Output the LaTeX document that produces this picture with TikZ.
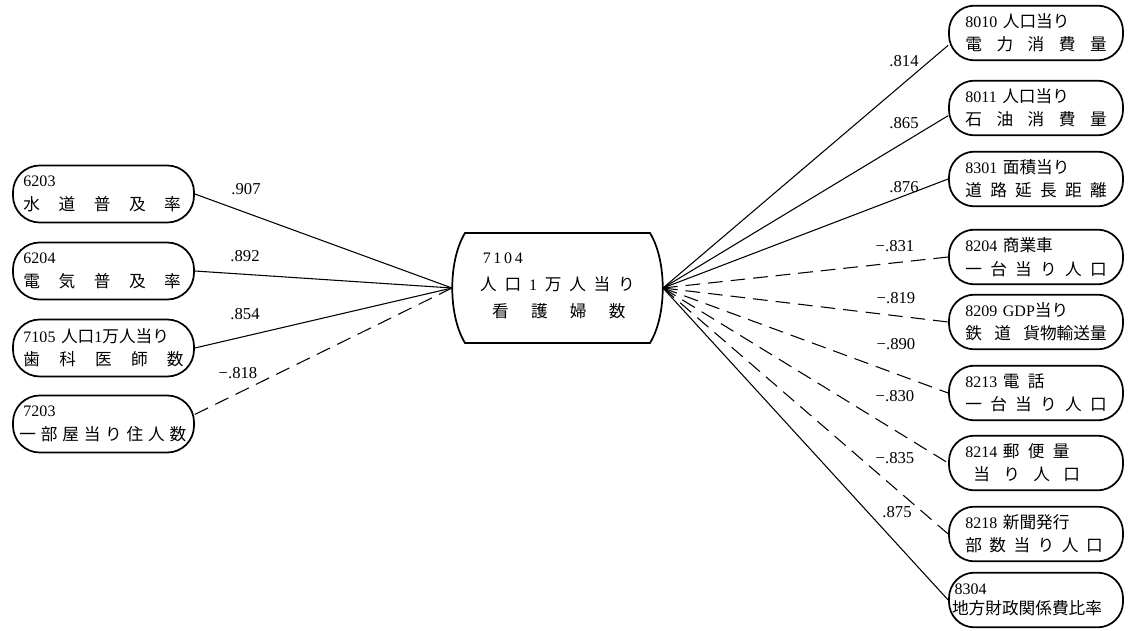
\documentclass[tikz,border=0pt]{standalone}
\usepackage{fontspec}
\setmainfont{Liberation Serif}
\newfontfamily\cjk{Noto Sans CJK JP}
\usetikzlibrary{calc,positioning}

\newcommand{\code}[1]{{\rmfamily\fontsize{12}{14}\selectfont #1}}
\newcommand{\spread}[2]{\makebox[#1][s]{#2}}

\tikzset{
    varbox/.style={draw,line width=1.3pt,rounded corners=19pt,inner sep=0pt,
        minimum width=130.5pt,minimum height=41pt,text width=106pt,align=left,
        font=\cjk\fontsize{12.5}{17.5}\selectfont},
    leftbox/.style={varbox,rounded corners=20pt,minimum width=135.75pt,
        minimum height=42.75pt,text width=120pt},
    posline/.style={line width=.8pt},
    negline/.style={line width=.8pt,dash pattern=on 11pt off 6pt},
    corr/.style={font=\fontsize{12.5}{14}\selectfont,inner sep=0pt}
}

\begin{document}
\begin{tikzpicture}[x=0.75pt,y=-0.75pt]
        \useasboundingbox (0,0) rectangle (1134,631);

        % Center
        \node[minimum width=138.75pt,minimum height=82.5pt,text width=116pt,align=left,
            inner sep=0pt,font=\cjk\fontsize{12.5}{20}\selectfont] (nurse) at (557.5,286)
            {\hspace*{2pt}\code{7\,1\,0\,4}\\ \spread{116pt}{人\hfill 口\hfill \code{1}\hfill 万\hfill 人\hfill 当\hfill り}\\
             \hspace*{9pt}\spread{100pt}{看\hfill 護\hfill 婦\hfill 数}};
        \draw[line width=1.3pt] (465,233) -- (650,233)
            .. controls (667,261) and (667,315) .. (650,343)
            -- (465,343)
            .. controls (448,315) and (448,261) .. cycle;
        \coordinate (nurse-l) at (452,288);
        \coordinate (nurse-r) at (663,288);

        % Left
        \node[leftbox] (l1) at (103.5,194) {\code{6203}\\[1pt] \spread{118pt}{水\hfill 道\hfill 普\hfill 及\hfill 率}};
        \node[leftbox] (l2) at (103.5,271) {\code{6204}\\[1pt] \spread{118pt}{電\hfill 気\hfill 普\hfill 及\hfill 率}};
        \node[leftbox] (l3) at (103.5,348) {\code{7105} 人口\code{1}万人当り\\ \spread{120pt}{歯\hfill 科\hfill 医\hfill 師\hfill 数}};
        \node[leftbox] (l4) at (103.5,424) {\code{7203}\\ \hspace*{-3pt}\spread{125pt}{一\hfill 部\hfill 屋\hfill 当\hfill り\hfill 住\hfill 人\hfill 数}};

        % Right
        \node[varbox] (r1) at (1036,33) {\code{8010} 人口当り\\ \spread{106pt}{電\hfill 力\hfill 消\hfill 費\hfill 量}};
        \node[varbox] (r2) at (1036,108) {\code{8011} 人口当り\\ \spread{106pt}{石\hfill 油\hfill 消\hfill 費\hfill 量}};
        \node[varbox] (r3) at (1036,179) {\code{8301} 面積当り\\ \spread{106pt}{道\hfill 路\hfill 延\hfill 長\hfill 距\hfill 離}};
        \node[varbox] (r4) at (1036,257) {\code{8204} 商業車\\ \spread{106pt}{一\hfill 台\hfill 当\hfill り\hfill 人\hfill 口}};
        \node[varbox] (r5) at (1036,322) {\code{8209} \code{GDP}当り\\ \spread{106pt}{鉄\hfill 道\hfill 貨\hfil 物\hfil 輸\hfil 送\hfil 量}};
        \node[varbox] (r6) at (1036,393) {\code{8213} 電\enspace 話\\ \spread{106pt}{一\hfill 台\hfill 当\hfill り\hfill 人\hfill 口}};
        \node[varbox] (r7) at (1036,463) {\code{8214} 郵\enspace 便\enspace 量\\ \hspace*{6pt}\spread{80pt}{当\hfill り\hfill 人\hfill 口}};
        \node[varbox] (r8) at (1036,534) {\code{8218} 新聞発行\\ \spread{103pt}{部\hfill 数\hfill 当\hfill り\hfill 人\hfill 口}};
        \node[varbox] (r9) at (1036,600) {\hspace*{-8pt}\raisebox{3pt}{\code{8304}}\\[-5pt] \hspace*{-10pt}地方財政関係費比率};

        % Connectors
        \draw[posline] (l1.east) -- (nurse-l);
        \draw[posline] (l2.east) -- (nurse-l);
        \draw[posline] (l3.east) -- (nurse-l);
        \draw[negline] (l4.6) -- (nurse-l);
        \draw[posline] (nurse-r) -- (r1.188);
        \draw[posline] (nurse-r) -- (r2.185);
        \draw[posline] (nurse-r) -- (r3.west);
        \foreach \b in {r4,r5,r6,r7,r8}
            \draw[negline] (nurse-r) -- (\b.west);
        \draw[posline] (nurse-r) -- (r9.west);

        % Correlations
        \node[corr] (c1) at (246,189) {.907};
        \node[corr] (c2) at (245,256) {.892};
        \node[corr] (c3) at (245,314) {.854};
        \node[corr] (c4) at (238,373) {−.818};
        \node[corr] (c5) at (904,61) {.814};
        \node[corr] (c6) at (904,123) {.865};
        \node[corr] (c7) at (904,187) {.876};
        \node[corr] (c8) at (895,246) {−.831};
        \node[corr] (c9) at (896,298) {−.819};
        \node[corr] (c10) at (896,344) {−.890};
        \node[corr] (c11) at (895,396) {−.830};
        \node[corr] (c12) at (895,458) {−.835};
        \node[corr] (c13) at (897,512) {.875};

    \end{tikzpicture}
\end{document}
